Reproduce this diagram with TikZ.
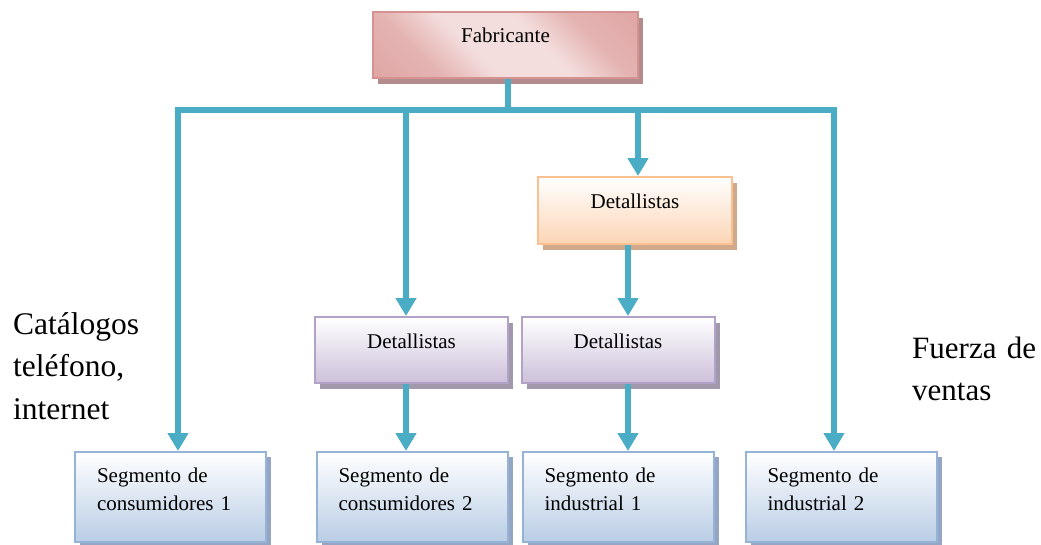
\documentclass[tikz,border=0pt]{standalone}
\usepackage{fontspec}
\setmainfont{Liberation Serif}
\usetikzlibrary{arrows.meta,shadows}
\definecolor{conncol}{RGB}{75,172,198}
\definecolor{pinkdark}{RGB}{218,152,150}
\definecolor{pinklight}{RGB}{243,222,221}
\definecolor{pinkline}{RGB}{214,146,144}
\definecolor{pinkshadow}{RGB}{178,140,140}
\definecolor{orangeline}{RGB}{250,192,144}
\definecolor{orangebot}{RGB}{251,213,181}
\definecolor{orangeshadow}{RGB}{208,168,138}
\definecolor{purpleline}{RGB}{179,162,199}
\definecolor{purplebot}{RGB}{204,192,218}
\definecolor{purpleshadow}{RGB}{162,152,172}
\definecolor{blueline}{RGB}{149,179,215}
\definecolor{bluebot}{RGB}{185,205,229}
\definecolor{blueshadow}{RGB}{148,166,196}
\pgfdeclareverticalshading{fabshade}{100bp}{color(0bp)=(pinkdark); color(30bp)=(pinkdark!60!pinklight); color(42bp)=(pinklight); color(58bp)=(pinklight); color(70bp)=(pinkdark!60!pinklight); color(100bp)=(pinkdark)}
\tikzset{
  boxbase/.style={rectangle, inner sep=0pt, line width=2pt,
    font=\fontsize{21}{28}\selectfont},
  fabbox/.style={boxbase, draw=pinkline, shading=fabshade, shading angle=-45,
    general shadow={shadow xshift=5pt, shadow yshift=-6pt, fill=pinkshadow},
    text width=265pt, align=center, text height=30pt, text depth=36pt},
  orangebox/.style={boxbase, draw=orangeline, top color=white, bottom color=orangebot,
    general shadow={shadow xshift=5pt, shadow yshift=-6pt, fill=orangeshadow},
    text width=194pt, align=center, text height=31pt, text depth=36pt},
  purplebox/.style={boxbase, draw=purpleline, top color=white, bottom color=purplebot,
    general shadow={shadow xshift=5pt, shadow yshift=-6pt, fill=purpleshadow},
    text width=193pt, align=center, text height=31pt, text depth=35pt},
  segbox/.style={boxbase, draw=blueline, top color=white, bottom color=bluebot,
    general shadow={shadow xshift=5pt, shadow yshift=-5pt, fill=blueshadow},
    inner xsep=22pt, text width=147pt, align=left, text height=30pt, text depth=60pt},
  conn/.style={draw=conncol, line width=6pt},
  arr/.style={conn, -{Triangle[width=20pt,length=18pt]}},
  sidetext/.style={inner sep=0pt, text width=160pt, align=left, anchor=base west}
}
\begin{document}
\begin{tikzpicture}[x=1pt,y=-1pt]
\useasboundingbox (0,0) rectangle (1041,544);
% boxes
\node[fabbox] (fab) at (505.5,45) {Fabricante};
\node[orangebox] (det0) at (635,210.5) {Detallistas};
\node[purplebox] (det1) at (411.5,350) {Detallistas};
\node[purplebox] (det2) at (618,350) {Detallistas};
\node[segbox] (s1) at (170.5,497) {Segmento de\\consumidores 1};
\node[segbox] (s2) at (412,497) {Segmento de\\consumidores 2};
\node[segbox] (s3) at (618,497) {Segmento de\\industrial 1};
\node[segbox] (s4) at (841,497) {Segmento de\\industrial 2};
% side texts
\node[sidetext, font=\fontsize{31.5}{42.5}\selectfont] (cat) at (13,334) {Catálogos\\teléfono,\\internet};
\node[sidetext, font=\fontsize{31}{42}\selectfont] (fv) at (912,358) {Fuerza de\\ventas};
% bus coordinates
\coordinate (trunk) at (508,110);
\coordinate (busL) at (178,110);
\coordinate (busR) at (834,110);
\coordinate (b2) at (406,110);
\coordinate (b3) at (638,110);
\coordinate (c2) at (628,300);
% connectors
\draw[conn] (fab.south -| trunk) -- (trunk);
\draw[conn, line join=miter, {Triangle[width=20pt,length=18pt]}-{Triangle[width=20pt,length=18pt]}]
  (s1.north -| busL) -- (busL) -- (busR) -- (s4.north -| busR);
\draw[arr] (b2) -- (det1.north -| b2);
\draw[arr] (b3) -- (det0.north -| b3);
\draw[arr] (det0.south -| c2) -- (det2.north -| c2);
\draw[arr] (det1.south -| b2) -- (s2.north -| b2);
\draw[arr] (det2.south -| c2) -- (s3.north -| c2);
\end{tikzpicture}
\end{document}
